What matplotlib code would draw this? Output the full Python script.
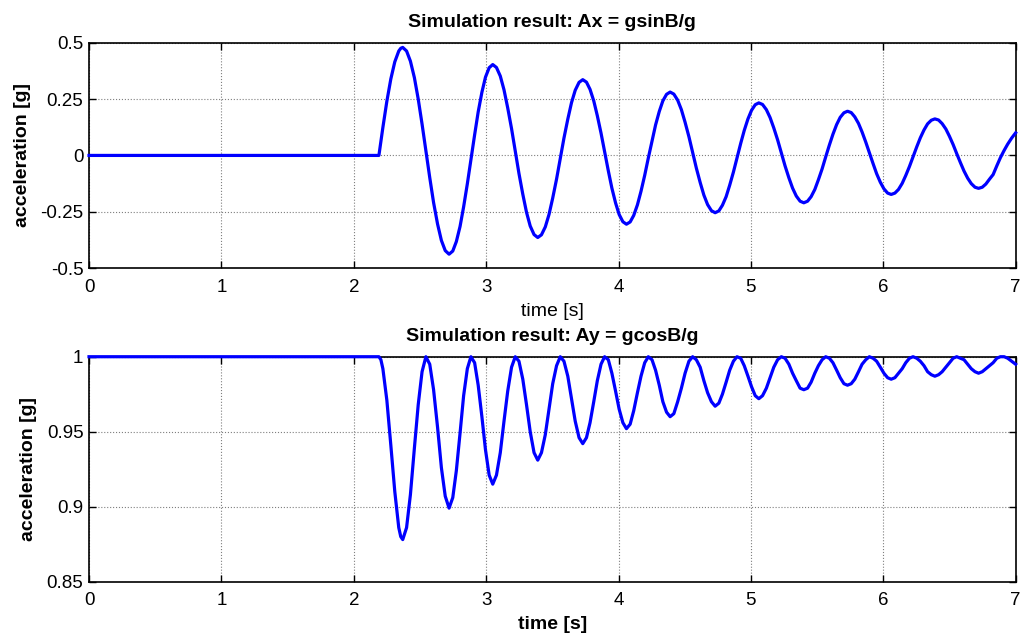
import matplotlib
matplotlib.use("Agg")
import matplotlib.pyplot as plt

plt.rcParams['font.family'] = ['Liberation Sans', 'DejaVu Sans']

# time samples [s] (one row per half swing)
time = [0.0, 2.19, 2.205, 2.22, 2.25, 2.28, 2.31, 2.34, 2.355, 2.37,
        2.399, 2.428, 2.458, 2.487, 2.516, 2.545, 2.574, 2.603, 2.633, 2.662, 2.691, 2.72,
        2.748, 2.775, 2.803, 2.83, 2.858, 2.885, 2.913, 2.94, 2.968, 2.995, 3.023, 3.05,
        3.078, 3.107, 3.135, 3.163, 3.192, 3.22, 3.248, 3.277, 3.305, 3.333, 3.362, 3.39,
        3.418, 3.447, 3.475, 3.503, 3.532, 3.56, 3.588, 3.617, 3.645, 3.673, 3.702, 3.73,
        3.758, 3.785, 3.813, 3.84, 3.868, 3.895, 3.923, 3.95, 3.978, 4.005, 4.033, 4.06,
        4.088, 4.115, 4.143, 4.17, 4.198, 4.225, 4.253, 4.28, 4.308, 4.335, 4.363, 4.39,
        4.418, 4.447, 4.475, 4.503, 4.532, 4.56, 4.588, 4.617, 4.645, 4.673, 4.702, 4.73,
        4.758, 4.785, 4.813, 4.84, 4.868, 4.895, 4.923, 4.95, 4.978, 5.005, 5.033, 5.06,
        5.088, 5.117, 5.145, 5.173, 5.202, 5.23, 5.258, 5.287, 5.315, 5.343, 5.372, 5.40,
        5.428, 5.455, 5.483, 5.51, 5.538, 5.565, 5.593, 5.62, 5.648, 5.675, 5.703, 5.73,
        5.758, 5.785, 5.813, 5.84, 5.868, 5.895, 5.923, 5.95, 5.978, 6.005, 6.033, 6.06,
        6.088, 6.115, 6.143, 6.17, 6.198, 6.225, 6.253, 6.28, 6.308, 6.335, 6.363, 6.39,
        6.418, 6.445, 6.473, 6.5, 6.528, 6.555, 6.583, 6.61, 6.638, 6.665, 6.693, 6.72,
        6.748, 6.775, 6.803, 6.83, 6.858, 6.885, 6.913, 6.94, 6.97, 7.0]

# Ax = g sinB / g
ax_vals = [0, 0, 0.062, 0.124, 0.240, 0.339, 0.415, 0.463, 0.475, 0.479,
           0.463, 0.418, 0.345, 0.250, 0.139, 0.021, -0.098, -0.209, -0.304, -0.377, -0.422, -0.438,
           -0.424, -0.382, -0.315, -0.228, -0.126, -0.018, 0.091, 0.193, 0.280, 0.347, 0.389, 0.403,
           0.390, 0.352, 0.291, 0.211, 0.119, 0.020, -0.080, -0.172, -0.252, -0.313, -0.351, -0.364,
           -0.352, -0.317, -0.262, -0.189, -0.105, -0.014, 0.077, 0.161, 0.234, 0.289, 0.324, 0.336,
           0.325, 0.293, 0.242, 0.176, 0.099, 0.016, -0.068, -0.145, -0.211, -0.262, -0.294, -0.305,
           -0.295, -0.266, -0.219, -0.159, -0.088, -0.012, 0.064, 0.135, 0.195, 0.242, 0.271, 0.281,
           0.272, 0.245, 0.203, 0.147, 0.083, 0.014, -0.056, -0.120, -0.176, -0.218, -0.245, -0.254,
           -0.246, -0.221, -0.183, -0.132, -0.074, -0.011, 0.053, 0.111, 0.162, 0.200, 0.225, 0.233,
           0.226, 0.203, 0.168, 0.122, 0.069, 0.012, -0.046, -0.099, -0.145, -0.180, -0.203, -0.210,
           -0.203, -0.183, -0.151, -0.108, -0.060, -0.007, 0.046, 0.094, 0.137, 0.169, 0.189, 0.196,
           0.190, 0.171, 0.142, 0.104, 0.059, 0.012, -0.036, -0.081, -0.119, -0.148, -0.167, -0.173,
           -0.167, -0.151, -0.124, -0.089, -0.049, -0.006, 0.038, 0.078, 0.113, 0.140, 0.156, 0.162,
           0.157, 0.141, 0.117, 0.085, 0.048, 0.008, -0.032, -0.069, -0.101, -0.125, -0.141, -0.146,
           -0.141, -0.127, -0.105, -0.085, -0.046, -0.010, 0.022, 0.050, 0.077, 0.100]

# Ay = g cosB / g
ay_vals = [1, 1, 0.998, 0.992, 0.971, 0.941, 0.910, 0.886, 0.880, 0.878,
           0.886, 0.908, 0.939, 0.968, 0.990, 1.0, 0.995, 0.978, 0.953, 0.926, 0.907, 0.899,
           0.906, 0.924, 0.949, 0.974, 0.992, 1.0, 0.996, 0.981, 0.960, 0.938, 0.921, 0.915,
           0.921, 0.936, 0.957, 0.977, 0.993, 1.0, 0.997, 0.985, 0.968, 0.950, 0.936, 0.931,
           0.936, 0.948, 0.965, 0.982, 0.994, 1.0, 0.997, 0.987, 0.972, 0.957, 0.946, 0.942,
           0.946, 0.956, 0.970, 0.984, 0.995, 1.0, 0.998, 0.989, 0.977, 0.965, 0.956, 0.952,
           0.955, 0.964, 0.976, 0.987, 0.996, 1.0, 0.998, 0.991, 0.981, 0.970, 0.963, 0.960,
           0.962, 0.970, 0.979, 0.989, 0.997, 1.0, 0.998, 0.993, 0.984, 0.976, 0.970, 0.967,
           0.969, 0.975, 0.983, 0.991, 0.997, 1.0, 0.999, 0.994, 0.987, 0.980, 0.974, 0.972,
           0.974, 0.979, 0.986, 0.993, 0.998, 1.0, 0.999, 0.995, 0.989, 0.984, 0.979, 0.978,
           0.979, 0.983, 0.989, 0.994, 0.998, 1.0, 0.999, 0.996, 0.991, 0.986, 0.982, 0.981,
           0.982, 0.985, 0.990, 0.995, 0.998, 1.0, 0.999, 0.997, 0.993, 0.989, 0.986, 0.985,
           0.986, 0.989, 0.992, 0.996, 0.999, 1.0, 0.999, 0.997, 0.994, 0.990, 0.988, 0.987,
           0.988, 0.990, 0.993, 0.996, 0.999, 1.0, 0.999, 0.998, 0.995, 0.992, 0.990, 0.989,
           0.990, 0.992, 0.994, 0.996, 0.999, 1.0, 1.0, 0.999, 0.997, 0.995]

xticks = [0, 1, 2, 3, 4, 5, 6, 7]
ax_ticks = [-0.5, -0.25, 0, 0.25, 0.5]
ax_ticklabels = ['-0.5', '-0.25', '0', '0.25', '0.5']
ay_ticks = [0.85, 0.9, 0.95, 1.0]
ay_ticklabels = ['0.85', '0.9', '0.95', '1']

fig = plt.figure(figsize=(10.29, 6.37), dpi=100)
top = fig.add_axes([0.0865, 0.579, 0.9005, 0.354])
bot = fig.add_axes([0.0865, 0.087, 0.9005, 0.353])


def style(a):
    a.set_xlim(0, 7)
    a.set_xticks(xticks)
    a.set_xticklabels([str(x) for x in xticks])
    a.grid(True, color='#7f7f7f', linestyle=':', linewidth=0.8)
    a.tick_params(direction='in', top=True, right=True, length=5,
                  width=1, labelsize=13.5, pad=4)
    a.tick_params(axis='x', pad=7.5)
    for s in a.spines.values():
        s.set_linewidth(1.2)
    a.set_axisbelow(True)


top.plot(time, ax_vals, color='#0000ff', linewidth=2.3, clip_on=False, zorder=3)
style(top)
top.set_ylim(-0.5, 0.5)
top.set_yticks(ax_ticks)
top.set_yticklabels(ax_ticklabels)
top.set_title('Simulation result: Ax = gsinB/g', fontsize=14, fontweight='bold', pad=11)
top.set_ylabel('acceleration [g]', fontsize=14, fontweight='bold', labelpad=7)
top.set_xlabel('time [s]', fontsize=14, labelpad=5)

bot.plot(time, ay_vals, color='#0000ff', linewidth=2.3, clip_on=False, zorder=3)
style(bot)
bot.set_ylim(0.85, 1.0)
bot.set_yticks(ay_ticks)
bot.set_yticklabels(ay_ticklabels)
bot.set_title('Simulation result: Ay = gcosB/g', fontsize=14, fontweight='bold', pad=11)
bot.set_ylabel('acceleration [g]', fontsize=14, fontweight='bold', labelpad=7)
bot.set_xlabel('time [s]', fontsize=14, fontweight='bold', labelpad=5)

fig.savefig('out.png', dpi=100)
